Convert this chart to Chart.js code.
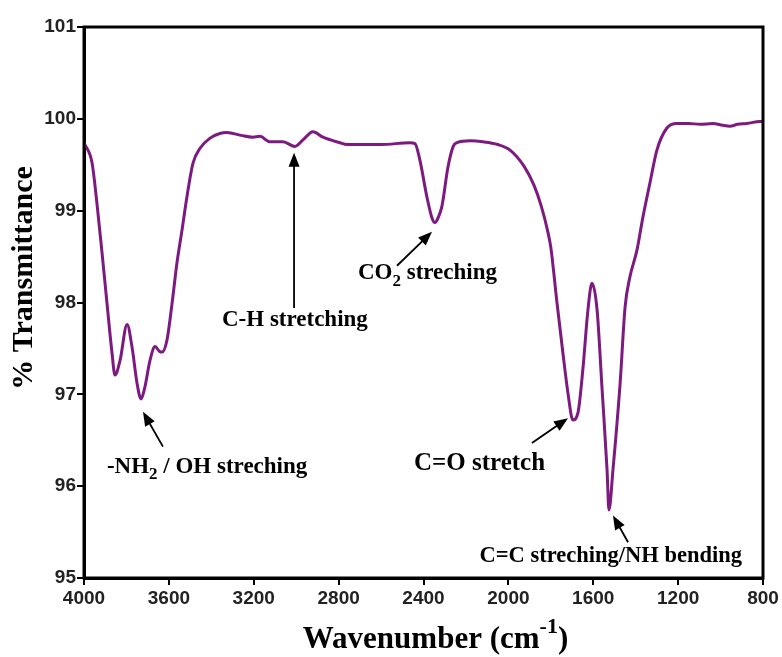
<!DOCTYPE html>
<html>
<head>
<meta charset="utf-8">
<script src="https://cdn.jsdelivr.net/npm/chart.js@4.4.1/dist/chart.umd.min.js"></script>
<style>
  html, body { margin: 0; padding: 0; background: #fff; }
  #wrap { width: 782px; height: 657px; }
</style>
</head>
<body>
<div id="wrap"><canvas id="ftir" width="782" height="657"></canvas></div>
<script>
// FTIR spectrum
const wavenumber = [
  4000, 3962, 3939, 3915, 3892, 3868, 3854, 3830, 3797, 3774, 3750, 3731, 3713, 3689,
  3665, 3645, 3632, 3609, 3585, 3562, 3538, 3515, 3486, 3453, 3406, 3360, 3326, 3260,
  3204, 3171, 3124, 3062, 3006, 2968, 2921, 2874, 2794, 2761, 2600, 2464, 2440, 2417,
  2384, 2360, 2346, 2330, 2313, 2285, 2260, 2242, 2180, 2120, 2050, 1992, 1925, 1880,
  1845, 1815, 1800, 1771, 1743, 1719, 1696, 1672, 1649, 1625, 1606, 1582, 1559, 1535,
  1526, 1507, 1474, 1450, 1427, 1394, 1366, 1333, 1300, 1253, 1206, 1150, 1097, 1036,
  990, 956, 920, 876, 814, 800
];
const transmittance = [
  99.74, 99.52, 99.08, 98.54, 98.00, 97.45, 97.21, 97.37, 97.76, 97.52, 97.12, 96.95, 97.08, 97.37,
  97.52, 97.47, 97.46, 97.59, 97.99, 98.43, 98.79, 99.15, 99.52, 99.68, 99.79, 99.84, 99.85, 99.82,
  99.80, 99.81, 99.75, 99.75, 99.70, 99.77, 99.86, 99.80, 99.74, 99.72, 99.72, 99.74, 99.73, 99.55,
  99.15, 98.92, 98.87, 98.93, 99.05, 99.47, 99.70, 99.74, 99.76, 99.75, 99.72, 99.66, 99.48, 99.28,
  99.05, 98.78, 98.60, 98.00, 97.45, 97.01, 96.72, 96.80, 97.27, 97.92, 98.21, 97.92, 97.08, 96.18,
  95.74, 96.18, 97.10, 97.95, 98.28, 98.57, 98.93, 99.30, 99.66, 99.90, 99.95, 99.95, 99.94, 99.95,
  99.93, 99.92, 99.94, 99.95, 99.97, 99.97
];

const xTicks = [4000, 3600, 3200, 2800, 2400, 2000, 1600, 1200, 800];
const yTicks = [95, 96, 97, 98, 99, 100, 101];

// peak labels, anchored in data coordinates (wavenumber, %T)
const labels = [
  { parts: [['-NH'], ['2', 'sub'], [' / OH streching']], at: [3892, 96.21], align: 'left', size: 23,
    arrow: [[3628, 96.43], [3722, 96.81]] },
  { parts: [['C-H stretching']], at: [3006, 97.81], align: 'center', size: 23,
    arrow: [[3010, 97.94], [3010, 99.63]] },
  { parts: [['CO'], ['2', 'sub'], [' streching']], at: [2709, 98.32], align: 'left', size: 23,
    arrow: [[2525, 98.40], [2360, 98.77]] },
  { parts: [['C=O stretch']], at: [2445, 96.25], align: 'left', size: 25,
    arrow: [[1889, 96.47], [1719, 96.74]] },
  { parts: [['C=C streching/NH bending']], at: [899, 95.24], align: 'right', size: 22.5,
    arrow: [[1436, 95.39], [1507, 95.68]] }
];

const SERIF = '"Liberation Serif", "Times New Roman", serif';

function drawParts(ctx, parts, x, y, size, align) {
  const main = 'bold ' + size + 'px ' + SERIF;
  const small = 'bold ' + Math.round(size * 0.72) + 'px ' + SERIF;
  let w = 0;
  parts.forEach(p => { ctx.font = p[1] ? small : main; w += ctx.measureText(p[0]).width; });
  let cx = align === 'left' ? x : align === 'right' ? x - w : x - w / 2;
  ctx.textAlign = 'left';
  ctx.textBaseline = 'middle';
  parts.forEach(p => {
    ctx.font = p[1] ? small : main;
    let dy = 0;
    if (p[1] === 'sub') dy = size * 0.35;
    if (p[1] === 'sup') dy = -size * 0.4;
    ctx.fillText(p[0], cx, y + dy);
    cx += ctx.measureText(p[0]).width;
  });
}

function arrow(ctx, x1, y1, x2, y2) {
  const a = Math.atan2(y2 - y1, x2 - x1);
  const L = 14, W = 5.5;
  ctx.beginPath();
  ctx.moveTo(x1, y1);
  ctx.lineTo(x2 - Math.cos(a) * L * 0.8, y2 - Math.sin(a) * L * 0.8);
  ctx.stroke();
  ctx.beginPath();
  ctx.moveTo(x2, y2);
  ctx.lineTo(x2 - Math.cos(a) * L - Math.sin(a) * W, y2 - Math.sin(a) * L + Math.cos(a) * W);
  ctx.lineTo(x2 - Math.cos(a) * L + Math.sin(a) * W, y2 - Math.sin(a) * L - Math.cos(a) * W);
  ctx.closePath();
  ctx.fill();
}

const decorations = {
  id: 'decorations',
  afterDraw(chart) {
    const { ctx, chartArea: ca, scales } = chart;
    const sx = v => scales.x.getPixelForValue(v);
    const sy = v => scales.y.getPixelForValue(v);
    ctx.save();
    // frame
    ctx.strokeStyle = '#000';
    ctx.lineWidth = 3;
    ctx.strokeRect(ca.left, ca.top, ca.right - ca.left, ca.bottom - ca.top);

    ctx.fillStyle = '#000';
    ctx.lineWidth = 1.8;
    labels.forEach(l => {
      drawParts(ctx, l.parts, sx(l.at[0]), sy(l.at[1]), l.size, l.align);
      const [p, q] = l.arrow;
      arrow(ctx, sx(p[0]), sy(p[1]), sx(q[0]), sy(q[1]));
    });

    // axis titles
    drawParts(ctx, [['Wavenumber (cm'], ['-1', 'sup'], [')']], (ca.left + ca.right) / 2 + 12, 640, 31, 'center');
    ctx.translate(24, 278);
    ctx.rotate(-Math.PI / 2);
    drawParts(ctx, [['% Transmittance']], 0, 0, 30, 'center');
    ctx.restore();
  }
};

const tickFont = { family: '"Liberation Sans", Arial, sans-serif', size: 19, weight: 'bold' };

new Chart(document.getElementById('ftir'), {
  type: 'line',
  data: {
    datasets: [{
      data: wavenumber.map((w, i) => ({ x: w, y: transmittance[i] })),
      borderColor: '#7d1a80',
      borderWidth: 3,
      pointRadius: 0,
      cubicInterpolationMode: 'monotone',
      fill: false
    }]
  },
  options: {
    responsive: false,
    animation: false,
    layout: { padding: { top: 27, right: 19, left: 0, bottom: 0 } },
    plugins: { legend: { display: false }, tooltip: { enabled: false } },
    scales: {
      x: {
        type: 'linear',
        reverse: true,
        min: 800,
        max: 4000,
        afterBuildTicks: s => { s.ticks = xTicks.map(v => ({ value: v })); },
        afterFit: s => { s.height = 79; },
        border: { display: true, color: '#000', width: 3 },
        grid: { drawOnChartArea: false, color: '#000', lineWidth: 2, tickLength: 7 },
        ticks: { color: '#222', padding: 2, maxRotation: 0, font: tickFont, callback: v => String(v) }
      },
      y: {
        min: 95,
        max: 101,
        afterBuildTicks: s => { s.ticks = yTicks.map(v => ({ value: v })); },
        afterFit: s => { s.width = 84; },
        border: { display: true, color: '#000', width: 3 },
        grid: { drawOnChartArea: false, color: '#000', lineWidth: 2, tickLength: 7 },
        ticks: { color: '#222', padding: 1, font: tickFont, callback: v => String(v) }
      }
    }
  },
  plugins: [decorations]
});
</script>
</body>
</html>
